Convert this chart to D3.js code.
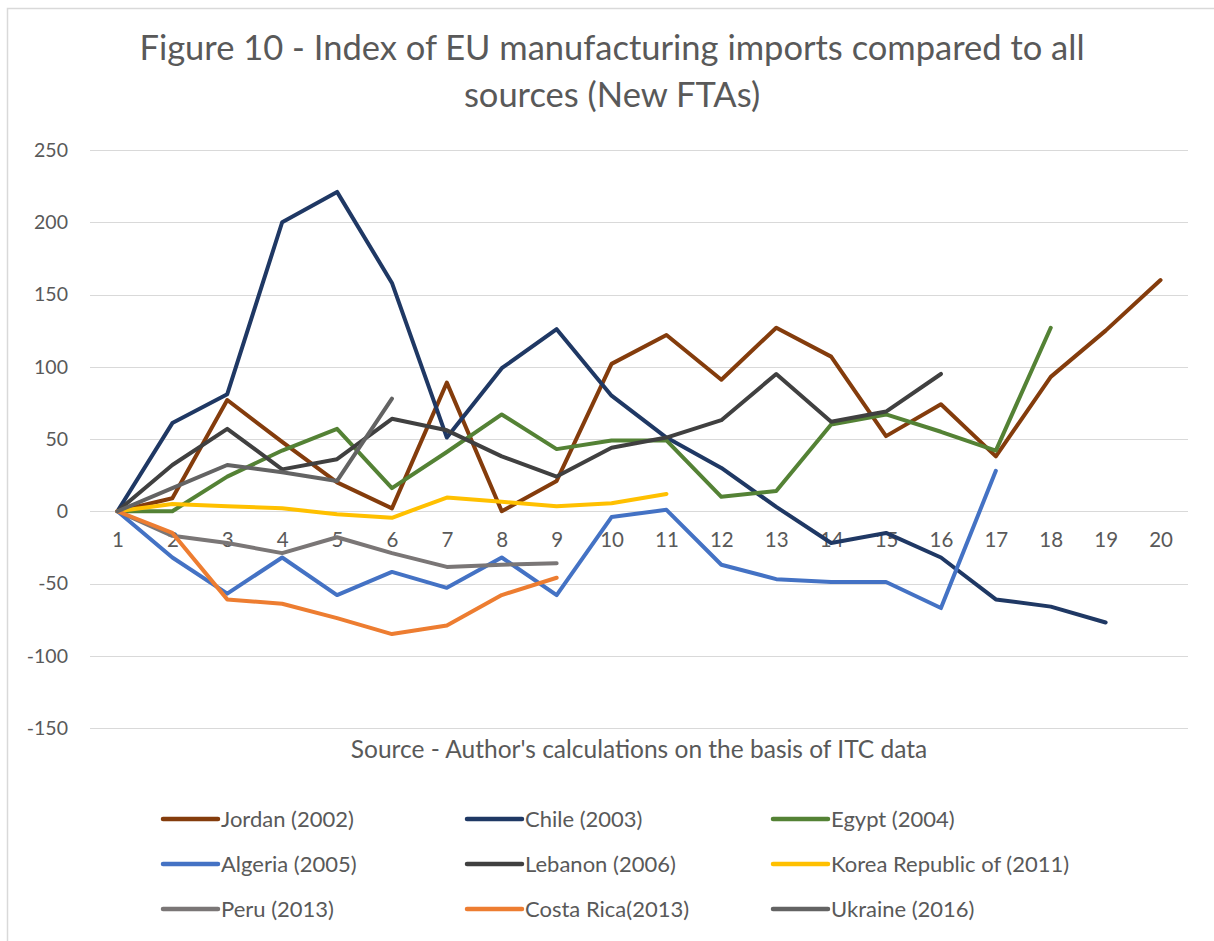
<!DOCTYPE html>
<html>
<head>
<meta charset="utf-8">
<script src="https://cdn.jsdelivr.net/npm/d3@7"></script>
<style>
  html, body { margin: 0; padding: 0; background: #fff; }
  svg { display: block; font-family: Lato, "Open Sans", sans-serif; }
</style>
</head>
<body>
<svg id="chart" width="1214" height="941"></svg>
<script>
const titleLines = ["Figure 10 - Index of EU manufacturing imports compared to all", "sources (New FTAs)"];
const sourceNote = "Source - Author's calculations on the basis of ITC data";
const categories = d3.range(1, 21);
const yTicks = [-150, -100, -50, 0, 50, 100, 150, 200, 250];

const seriesNames = ["Jordan (2002)", "Chile (2003)", "Egypt (2004)", "Algeria (2005)", "Lebanon (2006)",
  "Korea Republic of (2011)", "Peru (2013)", "Costa Rica(2013)", "Ukraine (2016)"];
const seriesColors = ["#843C0C", "#1F3864", "#548235", "#4472C4", "#404040", "#FFC000", "#7A7676", "#ED7D31", "#636363"];

const jordan = [0, 9, 77, 48, 20, 2, 89, 0, 21, 102, 122, 91, 127, 107, 52, 74, 38, 93, 125, 160];
const chile = [0, 61, 81, 200, 221, 158, 51, 99, 126, 80, 51, 30, 3, -22, -15, -32, -61, -66, -77];
const egypt = [0, 0, 24, 42, 57, 16, 41, 67, 43, 49, 49, 10, 14, 60, 67, 55, 42, 127];
const algeria = [0, -32, -57, -32, -58, -42, -53, -32, -58, -4, 1, -37, -47, -49, -49, -67, 28];
const lebanon = [0, 32, 57, 29, 36, 64, 56, 38, 24, 44, 51, 63, 95, 62, 69, 95];
const korea = [0, 5, 3.5, 2, -2, -4.5, 9.5, 6.5, 3.5, 5.5, 12];
const peru = [0, -17, -22, -29, -18, -29, -38.5, -37, -36];
const costaRica = [0, -15, -61, -64, -74, -85, -79, -58, -46];
const ukraine = [0, 16, 32, 27, 21, 78];

const seriesValues = [jordan, chile, egypt, algeria, lebanon, korea, peru, costaRica, ukraine];

const svg = d3.select("#chart");
const textColor = "#595959";

// chart border
svg.append("rect").attr("x", 7.5).attr("y", 8.5).attr("width", 1240).attr("height", 960)
  .attr("fill", "none").attr("stroke", "#d9d9d9").attr("stroke-width", 1.5);

const x = d3.scalePoint().domain(categories).range([90, 1188]).padding(0.5);
const y = d3.scaleLinear().domain([-150, 250]).range([728, 150]);

// title
svg.append("text").attr("x", 612).attr("y", 60).attr("text-anchor", "middle")
  .attr("fill", textColor).style("font-size", "34.5px").text(titleLines[0]);
svg.append("text").attr("x", 612).attr("y", 107).attr("text-anchor", "middle")
  .attr("fill", textColor).style("font-size", "34.5px").text(titleLines[1]);

// gridlines
svg.append("g").selectAll("line").data(yTicks).join("line")
  .attr("x1", 90).attr("x2", 1188)
  .attr("y1", d => Math.round(y(d)) + 0.5).attr("y2", d => Math.round(y(d)) + 0.5)
  .attr("stroke", "#d9d9d9").attr("stroke-width", 1.2);

// y axis labels
const yAxis = svg.append("g").attr("transform", "translate(90,0)")
  .call(d3.axisLeft(y).tickValues(yTicks).tickSize(0).tickPadding(22).tickFormat(d => String(d)));
yAxis.select(".domain").remove();
yAxis.selectAll("text").attr("fill", textColor).style("font-size", "19.5px").style("font-family", "Lato, 'Open Sans', sans-serif");

// x axis labels at y = 0
const xAxis = svg.append("g").attr("transform", `translate(0,${y(0)})`)
  .call(d3.axisBottom(x).tickSize(0).tickPadding(21));
xAxis.select(".domain").remove();
xAxis.selectAll("text").attr("fill", textColor).style("font-size", "20.5px").style("font-family", "Lato, 'Open Sans', sans-serif");

// lines
const line = d3.line().x((d, i) => x(categories[i])).y(d => y(d));
svg.append("g").selectAll("path").data(seriesValues).join("path")
  .attr("d", d => line(d))
  .attr("fill", "none")
  .attr("stroke", (d, i) => seriesColors[i])
  .attr("stroke-width", 4)
  .attr("stroke-linejoin", "round")
  .attr("stroke-linecap", "round");

// source note
svg.append("text").attr("x", 639).attr("y", 758).attr("text-anchor", "middle")
  .attr("fill", textColor).style("font-size", "24.5px").text(sourceNote);

// legend
const colX = [163, 467, 773];
const rowY = [819, 864, 909];
const legend = svg.append("g").selectAll("g").data(seriesNames).join("g")
  .attr("transform", (d, i) => `translate(${colX[i % 3]},${rowY[Math.floor(i / 3)]})`);
legend.append("line").attr("x1", 0).attr("x2", 55).attr("y1", 0).attr("y2", 0)
  .attr("stroke", (d, i) => seriesColors[i]).attr("stroke-width", 4.5).attr("stroke-linecap", "round");
legend.append("text").attr("x", 58).attr("y", 0).attr("dy", "0.35em")
  .attr("fill", textColor).style("font-size", "22px").text(d => d);
</script>
</body>
</html>
